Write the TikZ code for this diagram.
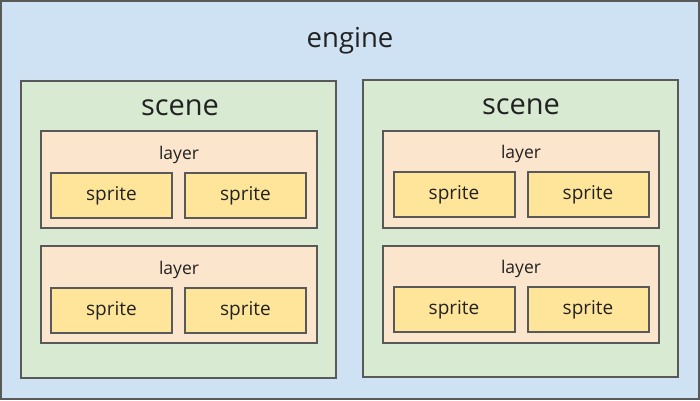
\documentclass[tikz,border=0pt]{standalone}
\usepackage{fontspec}
\setmainfont{Open Sans}
\usepackage{tikz}
\definecolor{engineblue}{HTML}{CFE2F3}
\definecolor{scenegreen}{HTML}{D9EAD3}
\definecolor{layerpeach}{HTML}{FCE5CD}
\definecolor{spriteyellow}{HTML}{FFE599}
\definecolor{edgegrey}{HTML}{595959}
\definecolor{labelink}{HTML}{222222}
\tikzset{
  box/.style={draw=edgegrey, line width=2pt, inner sep=0pt},
  scenebox/.style={box, fill=scenegreen, minimum width=315pt, minimum height=297pt},
  layerbox/.style={box, fill=layerpeach, minimum width=276pt, minimum height=97pt},
  spritebox/.style={box, fill=spriteyellow, minimum width=121pt, minimum height=45pt, text height=11pt, text depth=0.5pt, font=\fontsize{19}{22}\selectfont, text=labelink},
  boxlabel/.style={text=labelink, yshift=-2.5pt}
}

\begin{document}
\begin{tikzpicture}[x=1pt, y=-1pt]
			%%%%% START %%%%%
			\useasboundingbox (0, 0) rectangle (700, 400);
			
			\draw[fill=engineblue, draw=edgegrey, line width=2pt] (1, 1) rectangle (699, 399);
			\node[boxlabel, font=\fontsize{27.5}{32}\selectfont] (engine) at (350, 38) {engine};
			
			% left scene
			\node[scenebox] (sceneA) at (178.5, 229.5) {};
			\node[boxlabel, font=\fontsize{29}{34}\selectfont] (sceneAlabel) at (180, 105) {scene};
			
			\node[layerbox] (layerA1) at (179, 179.5) {};
			\node[boxlabel, font=\fontsize{17.5}{21}\selectfont] (layerA1label) at (179, 152) {layer};
			\node[spritebox] (spriteA1a) at (111.5, 195.5) {sprite};
			\node[spritebox] (spriteA1b) at (245.5, 195.5) {sprite};
			
			\node[layerbox] (layerA2) at (179, 294.5) {};
			\node[boxlabel, font=\fontsize{17.5}{21}\selectfont] (layerA2label) at (179, 267) {layer};
			\node[spritebox] (spriteA2a) at (111.5, 310.5) {sprite};
			\node[spritebox] (spriteA2b) at (245.5, 310.5) {sprite};
			
			% right scene
			\node[scenebox] (sceneB) at (520.5, 228.5) {};
			\node[boxlabel, font=\fontsize{29}{34}\selectfont] (sceneBlabel) at (521, 104) {scene};
			
			\node[layerbox] (layerB1) at (521, 179) {};
			\node[boxlabel, font=\fontsize{17.5}{21}\selectfont] (layerB1label) at (521, 151) {layer};
			\node[spritebox] (spriteB1a) at (454, 194.5) {sprite};
			\node[spritebox] (spriteB1b) at (588, 194.5) {sprite};
			
			\node[layerbox] (layerB2) at (521, 294) {};
			\node[boxlabel, font=\fontsize{17.5}{21}\selectfont] (layerB2label) at (521, 266) {layer};
			\node[spritebox] (spriteB2a) at (454, 309.5) {sprite};
			\node[spritebox] (spriteB2b) at (588, 309.5) {sprite};
			
			%%%%% END %%%%%
\end{tikzpicture}
\end{document}
